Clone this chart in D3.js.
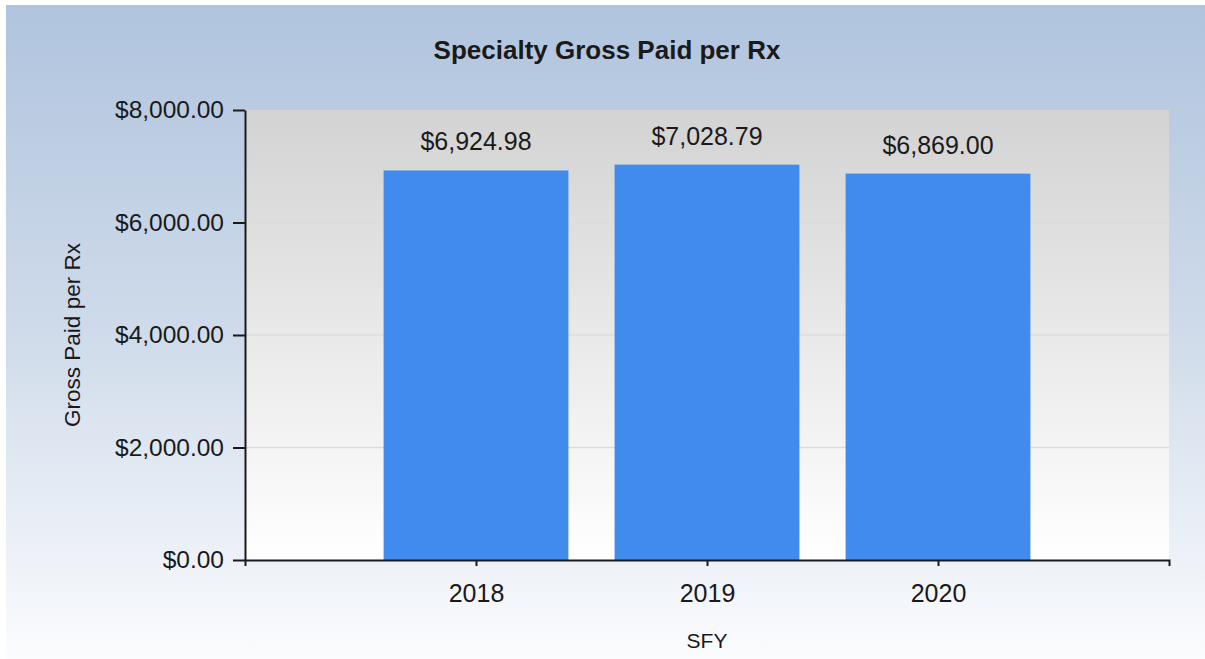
<!DOCTYPE html>
<html>
<head>
<meta charset="utf-8">
<script src="https://cdn.jsdelivr.net/npm/d3@7"></script>
<style>
  html, body { margin: 0; padding: 0; background: #ffffff; }
  svg { display: block; }
  text { font-family: "Liberation Sans", Arial, sans-serif; fill: #1a1a1a; }
</style>
</head>
<body>
<svg id="chart" width="1205" height="659"></svg>
<script>
const categories = ["2018", "2019", "2020"];
const grossPaidPerRx = [6924.98, 7028.79, 6869.00];
const yTickValues = [0, 2000, 4000, 6000, 8000];
const chartTitle = "Specialty Gross Paid per Rx";
const xAxisTitle = "SFY";
const yAxisTitle = "Gross Paid per Rx";

const W = 1205, H = 659;
const panel = {x: 6, y: 5, w: 1199, h: 654};
const plot = {left: 245, right: 1169, top: 110, bottom: 560};

const svg = d3.select("#chart");
const defs = svg.append("defs");

const bgGrad = defs.append("linearGradient").attr("id", "bgGrad")
  .attr("x1", 0).attr("y1", 0).attr("x2", 0).attr("y2", 1);
bgGrad.append("stop").attr("offset", "0%").attr("stop-color", "#b0c4de");
bgGrad.append("stop").attr("offset", "50%").attr("stop-color", "#cfdbea");
bgGrad.append("stop").attr("offset", "100%").attr("stop-color", "#fbfcfe");

const plotGrad = defs.append("linearGradient").attr("id", "plotGrad")
  .attr("x1", 0).attr("y1", 0).attr("x2", 0).attr("y2", 1);
plotGrad.append("stop").attr("offset", "0%").attr("stop-color", "#d3d3d3");
plotGrad.append("stop").attr("offset", "100%").attr("stop-color", "#ffffff");

// outer panel
svg.append("rect")
  .attr("x", panel.x).attr("y", panel.y)
  .attr("width", panel.w).attr("height", panel.h)
  .attr("fill", "url(#bgGrad)");

// plot background
svg.append("rect")
  .attr("x", plot.left).attr("y", plot.top)
  .attr("width", plot.right - plot.left).attr("height", plot.bottom - plot.top)
  .attr("fill", "url(#plotGrad)");

const x = d3.scalePoint().domain(categories).range([plot.left, plot.right]).padding(1);
const y = d3.scaleLinear().domain([0, 8000]).range([plot.bottom, plot.top]);
const barW = x.step() * 0.8;

// gridlines
svg.append("g").selectAll("line")
  .data(yTickValues.filter(v => v > 0 && v < 8000))
  .join("line")
  .attr("x1", plot.left).attr("x2", plot.right)
  .attr("y1", d => y(d)).attr("y2", d => y(d))
  .attr("stroke", "#dcdcdc").attr("stroke-width", 1.5);

// bars
svg.append("g").selectAll("rect")
  .data(categories.map((c, i) => ({c, v: grossPaidPerRx[i]})))
  .join("rect")
  .attr("x", d => x(d.c) - barW / 2)
  .attr("y", d => y(d.v))
  .attr("width", barW)
  .attr("height", d => y(0) - y(d.v))
  .attr("fill", "#418bef");

// value labels
const fmt = d3.format("$,.2f");
svg.append("g").selectAll("text")
  .data(categories.map((c, i) => ({c, v: grossPaidPerRx[i]})))
  .join("text")
  .attr("x", d => x(d.c))
  .attr("y", d => y(d.v) - 20)
  .attr("text-anchor", "middle")
  .attr("font-size", "25px")
  .text(d => fmt(d.v));

// y axis
const yAxis = svg.append("g")
  .attr("transform", `translate(${plot.left},0)`)
  .call(d3.axisLeft(y).tickValues(yTickValues).tickFormat(fmt)
    .tickSize(12).tickSizeOuter(0).tickPadding(9));
yAxis.selectAll("text").attr("font-size", "24.5px").attr("font-family", "Liberation Sans, Arial, sans-serif").attr("fill", "#1a1a1a");

// x axis
const xAxis = svg.append("g")
  .attr("transform", `translate(0,${plot.bottom})`)
  .call(d3.axisBottom(x).tickSize(6).tickSizeOuter(6).tickPadding(18));
xAxis.selectAll("text").attr("font-size", "25px").attr("font-family", "Liberation Sans, Arial, sans-serif").attr("fill", "#1a1a1a");

[yAxis, xAxis].forEach(g => {
  g.select(".domain").attr("stroke", "#1a1a1a").attr("stroke-width", 2);
  g.selectAll(".tick line").attr("stroke", "#1a1a1a").attr("stroke-width", 2);
});

// title
svg.append("text")
  .attr("x", 607).attr("y", 59)
  .attr("text-anchor", "middle")
  .attr("font-size", "26px").attr("font-weight", "bold")
  .text(chartTitle);

// x axis title
svg.append("text")
  .attr("x", (plot.left + plot.right) / 2).attr("y", 648)
  .attr("text-anchor", "middle")
  .attr("font-size", "21px")
  .text(xAxisTitle);

// y axis title
svg.append("text")
  .attr("transform", `translate(80,${(plot.top + plot.bottom) / 2}) rotate(-90)`)
  .attr("text-anchor", "middle")
  .attr("font-size", "22.5px")
  .text(yAxisTitle);
</script>
</body>
</html>
